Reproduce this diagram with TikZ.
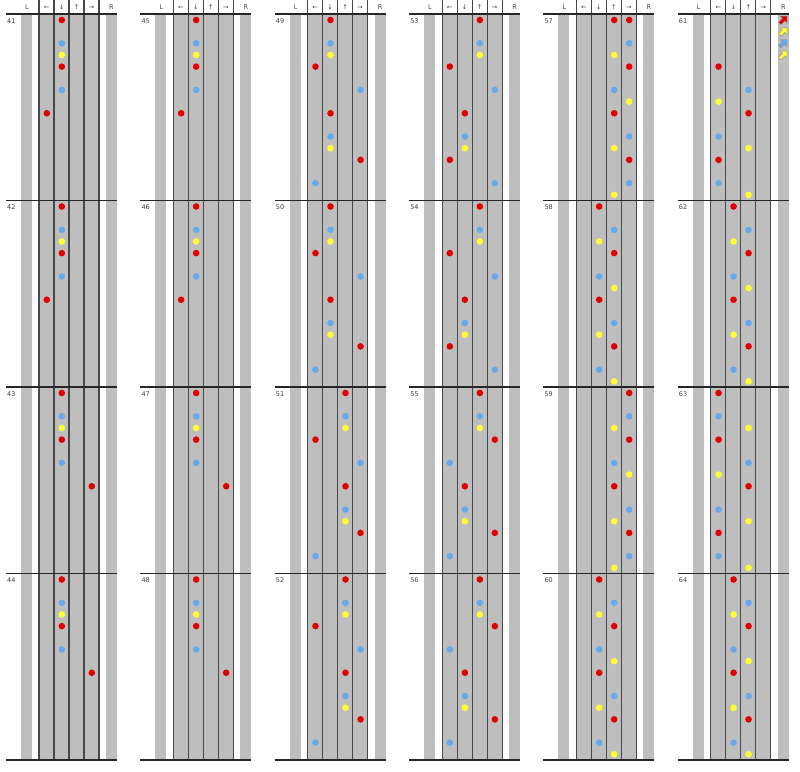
\documentclass[tikz,border=0pt]{standalone}
\usepackage{fontspec}
\setmainfont{DejaVu Sans}

\definecolor{lanegrey}{HTML}{BEBEBE}
\definecolor{laneline}{HTML}{484848}
\definecolor{qred}{HTML}{E00000}
\definecolor{eblue}{HTML}{66AAEE}
\definecolor{syellow}{HTML}{FFFF33}

% lane (0 left, 1 down, 2 up, 3 right) / sixteenth in the measure
\def\patA{1/0,1/2,1/3,1/4,1/6,0/8}
\def\patB{1/0,1/2,1/3,1/4,1/6,3/8}
\def\patC{1/0,1/2,1/3,0/4,3/6,1/8,1/10,1/11,3/12,0/14}
\def\patD{2/0,2/2,2/3,0/4,3/6,2/8,2/10,2/11,3/12,0/14}
\def\patE{2/0,2/2,2/3,0/4,3/6,1/8,1/10,1/11,0/12,3/14}
\def\patF{2/0,2/2,2/3,3/4,0/6,1/8,1/10,1/11,3/12,0/14}
\def\patG{2/0,3/0,3/2,2/3,3/4,2/6,3/7,2/8,3/10,2/11,3/12,3/14,2/15}
\def\patH{1/0,2/2,1/3,2/4,1/6,2/7,1/8,2/10,1/11,2/12,1/14,2/15}
\def\patI{3/0,3/2,2/3,3/4,2/6,3/7,2/8,3/10,2/11,3/12,3/14,2/15}
\def\patJ{0/4,2/6,0/7,2/8,0/10,2/11,0/12,0/14,2/15}
\def\patK{0/0,0/2,2/3,0/4,2/6,0/7,2/8,0/10,2/11,0/12,0/14,2/15}

\begin{document}
\begin{tikzpicture}[x=1pt,y=-1pt,
  lab/.style={font=\fontsize{6.5}{7}\selectfont,text=black!75,inner sep=0pt},
  dot/.style={circle,inner sep=0pt,minimum size=6.6pt},
  barline/.style={black!85,line width=1.3pt},
  laneedge/.style={laneline,line width=1.1pt},
  icon/.style={draw=black!45,line width=0.4pt}]
\useasboundingbox (0,0) rectangle (800,771);

% six columns of four measures
\foreach \c in {0,...,5}{
  \begin{scope}[shift={(134.35*\c,0)}]
    \fill[lanegrey] (21,14) rectangle (32,760);
    \fill[lanegrey] (39,14) rectangle (99,760);
    \fill[lanegrey] (106,14) rectangle (117,760);
    \foreach \x in {39,54,69,84,99}
      \draw[laneedge] (\x,0) -- (\x,760);
    \foreach \r in {0,...,4}
      \draw[barline] (6,14+186.5*\r) -- (117,14+186.5*\r);
    \node[lab] (hL\c) at (27,7.5) {L};
    \node[lab] (hl\c) at (46.5,7.5) {←};
    \node[lab] (hd\c) at (61.5,7.5) {↓};
    \node[lab] (hu\c) at (76.5,7.5) {↑};
    \node[lab] (hr\c) at (91.5,7.5) {→};
    \node[lab] (hR\c) at (111.5,7.5) {R};
    \foreach \r in {0,...,3}{
      \pgfmathtruncatemacro\n{41+4*\c+\r}
      \node[lab,anchor=west] (m\n) at (7,21+186.5*\r) {\n};
    }
  \end{scope}
}

% notes
\foreach \m/\p in {41/A,42/A,43/B,44/B,45/A,46/A,47/B,48/B,
                   49/C,50/C,51/D,52/D,53/E,54/E,55/F,56/F,
                   57/G,58/H,59/I,60/H,61/J,62/H,63/K,64/H}{
  \pgfmathtruncatemacro\c{(\m-41)/4}
  \pgfmathtruncatemacro\r{mod(\m-41,4)}
  \expandafter\let\expandafter\cur\csname pat\p\endcsname
  \foreach \l/\k in \cur{
    \pgfmathtruncatemacro\q{mod(\k,4)}
    \ifcase\q \def\nc{qred}\or \def\nc{syellow}\or \def\nc{eblue}\or \def\nc{syellow}\fi
    \node[dot,fill=\nc] (n\m-\l-\k) at (134.35*\c+46.8+15*\l,20+186.5*\r+11.656*\k) {};
  }
}

% small arrows in the R strip of 61
\foreach \k/\ic in {0/qred,1/syellow,2/eblue,3/syellow}{
  \begin{scope}[shift={(783.2,20+11.656*\k)},scale=1.15]
    \filldraw[icon,fill=\ic] (3.3,-3.3) -- (3.3,2.6) -- (1.4,0.7) -- (-1.9,4)
      -- (-4,1.9) -- (-0.7,-1.4) -- (-2.6,-3.3) -- cycle;
  \end{scope}
}
\end{tikzpicture}
\end{document}
